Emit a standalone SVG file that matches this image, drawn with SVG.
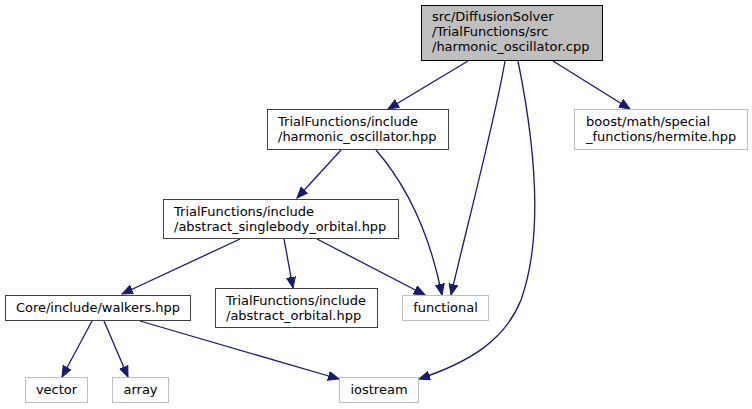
<svg xmlns="http://www.w3.org/2000/svg" width="752" height="409" viewBox="0 0 752 409">
<defs>
<style>
text{font-family:"DejaVu Sans","Liberation Sans",sans-serif;font-size:13px;fill:#000}
.doc{fill:#fff;stroke:#404040;stroke-width:1}
.root{fill:#bfbfbf;stroke:#000;stroke-width:1}
.ext{fill:#fff;stroke:#bfbfbf;stroke-width:1}
.e{fill:none;stroke:#191970;stroke-width:1.3;marker-end:url(#ah)}
.c{text-anchor:middle}
</style>
<marker id="ah" markerUnits="userSpaceOnUse" markerWidth="12" markerHeight="10" refX="11" refY="4.5" orient="auto" viewBox="0 0 12 9">
<path d="M0,0 L11,4.5 L0,9 z" fill="#191970" stroke="#191970" stroke-width="1"/>
</marker>
</defs>
<rect width="752" height="409" fill="#fff"/>
<g id="edges">
<path class="e" d="M468,61 L388,109"/>
<path class="e" d="M505,61 C495,120 466,230 451,295"/>
<path class="e" d="M518,61 C532,130 546,230 521,300 C505,340 470,362 419,379"/>
<path class="e" d="M553,61 L630,109"/>
<path class="e" d="M341,150 L297,198"/>
<path class="e" d="M376,150 C402,180 428,225 442,295"/>
<path class="e" d="M240,239 L122,294"/>
<path class="e" d="M284,239 L293,288"/>
<path class="e" d="M317,239 L425,295"/>
<path class="e" d="M92,321 L62,377"/>
<path class="e" d="M104,321 L128,377"/>
<path class="e" d="M140,321 L339,379"/>
</g>
<g id="root">
<rect class="root" x="421.5" y="5.5" width="181" height="55"/>
<text x="432" y="21">src/DiffusionSolver</text>
<text x="432" y="36">/TrialFunctions/src</text>
<text x="432" y="51">/harmonic_oscillator.cpp</text>
</g>
<g id="harmonic_oscillator_hpp">
<rect class="doc" x="267.5" y="109.5" width="181" height="40"/>
<text x="278" y="126">TrialFunctions/include</text>
<text x="278" y="141">/harmonic_oscillator.hpp</text>
</g>
<g id="hermite_hpp">
<rect class="ext" x="574.5" y="109.5" width="173" height="40"/>
<text x="586" y="126">boost/math/special</text>
<text x="586" y="141">_functions/hermite.hpp</text>
</g>
<g id="abstract_singlebody_orbital_hpp">
<rect class="doc" x="163.5" y="199.5" width="235" height="39"/>
<text x="174" y="216">TrialFunctions/include</text>
<text x="174" y="231">/abstract_singlebody_orbital.hpp</text>
</g>
<g id="walkers_hpp">
<rect class="doc" x="5.5" y="295.5" width="185" height="25"/>
<text class="c" x="98" y="312">Core/include/walkers.hpp</text>
</g>
<g id="abstract_orbital_hpp">
<rect class="doc" x="215.5" y="288.5" width="162" height="39"/>
<text x="226" y="305">TrialFunctions/include</text>
<text x="226" y="320">/abstract_orbital.hpp</text>
</g>
<g id="functional">
<rect class="ext" x="402.5" y="295.5" width="86" height="25"/>
<text class="c" x="445.5" y="312">functional</text>
</g>
<g id="vector">
<rect class="ext" x="25.5" y="377.5" width="62" height="25"/>
<text class="c" x="56.5" y="394">vector</text>
</g>
<g id="array">
<rect class="ext" x="112.5" y="377.5" width="56" height="25"/>
<text class="c" x="140.5" y="394">array</text>
</g>
<g id="iostream">
<rect class="ext" x="339.5" y="377.5" width="79" height="25"/>
<text class="c" x="379" y="394">iostream</text>
</g>
</svg>
